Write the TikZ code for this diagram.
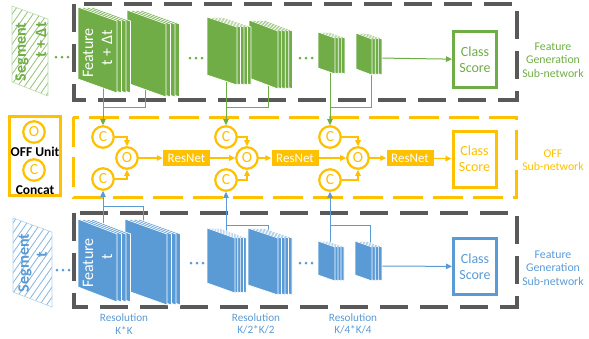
\documentclass[tikz,border=0pt]{standalone}
\usepackage{fontspec}
\setmainfont{Carlito}
\usetikzlibrary{arrows.meta}
\definecolor{cgreen}{HTML}{70AD47}
\definecolor{corange}{HTML}{FFC000}
\definecolor{cblue}{HTML}{5B9BD5}
\definecolor{cgrey}{HTML}{595959}
% #1 x, #2 ytop, #3 w, #4 h, #5 slant, #6 back panels, #7 dx, #8 colour
\newcommand{\fstack}[8]{%
  \foreach \i in {#6,...,0}{%
    \filldraw[fill=#8, draw=white, line width=0.7pt]
      ({#1+\i*#7},#2) -- ++(#3,#5) -- ++(0,#4) -- ++(-#3,-#5) -- cycle;
  }%
}
\begin{document}
\begin{tikzpicture}[x=1pt,y=-1pt,
  greybox/.style={draw=cgrey, line width=3.2pt, dash pattern=on 28pt off 12pt},
  orangebox/.style={draw=corange, line width=3pt, dash pattern=on 30pt off 10pt},
  circ/.style={circle, draw=corange, line width=2.2pt, fill=white, minimum size=21.5pt, inner sep=0pt, text=corange, font=\fontsize{15.5}{15.5}\selectfont},
  resnet/.style={fill=corange, minimum width=47pt, minimum height=16pt, inner sep=0pt, text=white, font=\fontsize{13}{13}\selectfont},
  classbox/.style={draw=#1, line width=3pt, fill=white, minimum width=43pt, minimum height=56pt, text=#1, font=\fontsize{14}{16}\selectfont, align=center, inner sep=0pt},
  gline/.style={draw=cgreen, line width=1pt},
  bline/.style={draw=cblue, line width=1pt},
  garrow/.style={gline, -{Triangle[length=6pt,width=5.5pt]}},
  barrow/.style={bline, -{Triangle[length=6pt,width=5.5pt]}},
  oarrow/.style={draw=corange, line width=1.2pt, -{Triangle[length=6pt,width=5.5pt]}},
  sidelabel/.style={text=#1, align=center, font=\fontsize{11.8}{13.5}\selectfont},
  reslabel/.style={text=cblue, align=center, font=\fontsize{11.2}{12.5}\selectfont},
  feattext/.style={rotate=90, text=white, font=\fontsize{16}{16}\selectfont},
  segtext/.style={rotate=90, text=#1, font=\bfseries\fontsize{16}{16}\selectfont},
  legtext/.style={text=black, font=\bfseries\fontsize{13.5}{13.5}\selectfont}
]
\useasboundingbox (0,0) rectangle (589,338);

% dashed frames
\draw[greybox] (74,4) rectangle (517,100);
\draw[orangebox] (73,117) rectangle (516,197);
\draw[greybox] (74,213) rectangle (517,307);

% legend
\node[draw=corange, line width=3pt, minimum width=51pt, minimum height=79pt, inner sep=0pt] (legend) at (35,156) {};
\node[circ] (lo) at (34,132) {O};
\node[legtext] (lot) at (35,152) {OFF Unit};
\node[circ] (lc) at (34,170) {C};
\node[legtext] (lct) at (35,190) {Concat};

% segments
\begin{scope}
  \clip (12,6) -- (48,19) -- (48,96) -- (12,82) -- cycle;
  \foreach \k in {-90,-83,...,60} \draw[cgreen!75, line width=0.8pt] (\k,110) -- ++(77,-110);
\end{scope}
\draw[cgreen!45, line width=0.6pt] (12,6) -- (48,19) -- (48,96) -- (12,82) -- cycle;
\node[segtext=cgreen] (segT1) at (22,52) {Segment};
\node[segtext=cgreen] (segT2) at (41,40) {t + Δt};

\begin{scope}
  \clip (13,218) -- (52,232) -- (52,307) -- (13,292) -- cycle;
  \foreach \k in {-90,-83,...,60} \draw[cblue!75, line width=0.8pt] (\k,320) -- ++(77,-110);
\end{scope}
\draw[cblue!45, line width=0.6pt] (13,218) -- (52,232) -- (52,307) -- (13,292) -- cycle;
\node[segtext=cblue] (segB1) at (25,263) {Segment};
\node[segtext=cblue] (segB2) at (42,255) {t};

% dots
\foreach \x/\y in {56/57,62/57,68/57,190/58,196/58,202/58,300/58,306/58,312/58}
  \fill[cgreen] (\x,\y) circle (1.5pt);
\foreach \x/\y in {57/270,63/270,69/270,191/263,197/263,203/263,300/263,306/263,312/263}
  \fill[cblue] (\x,\y) circle (1.5pt);

% OFF row nodes
\node[circ] (c1a) at (103,137) {C};
\node[circ] (c1b) at (103,179) {C};
\node[circ] (o1) at (127,158) {O};
\node[circ] (c2a) at (226,137) {C};
\node[circ] (c2b) at (226,180) {C};
\node[circ] (o2) at (247,158) {O};
\node[circ] (c3a) at (330,137) {C};
\node[circ] (c3b) at (330,180) {C};
\node[circ] (o3) at (358,158) {O};
\node[resnet] (r1) at (186.5,158) {ResNet};
\node[resnet] (r2) at (295,158) {ResNet};
\node[resnet] (r3) at (410,158) {ResNet};
\node[classbox=cgreen] (csT) at (475,59.5) {Class\\Score};
\node[classbox=corange] (csO) at (474.5,159) {Class\\Score};
\node[classbox=cblue] (csB) at (475,266.5) {Class\\Score};

% OFF row connectors
\draw[oarrow] (c1a.east) -| (o1.north);
\draw[oarrow] (c1b.east) -| (o1.south);
\draw[oarrow] (c2a.east) -| (o2.north);
\draw[oarrow] (c2b.east) -| (o2.south);
\draw[oarrow] (c3a.east) -| (o3.north);
\draw[oarrow] (c3b.east) -| (o3.south);
\draw[oarrow] (o1) -- (r1);
\draw[oarrow] (r1) -- (o2);
\draw[oarrow] (o2) -- (r2);
\draw[oarrow] (r2) -- (o3);
\draw[oarrow] (o3) -- (r3);
\draw[oarrow] (r3) -- (csO);

% top connectors (green)
\coordinate (tg1) at (103,85);
\coordinate (tg2) at (145,86);
\coordinate (tj1) at (103,107);
\coordinate (tg3) at (226,78);
\coordinate (tg4) at (268,82);
\coordinate (tj2) at (226,107);
\coordinate (tg5) at (330,69);
\coordinate (tg6) at (371,71);
\coordinate (tj3) at (330,107);
\coordinate (tg7) at (378,58);
\draw[gline] (tg2) |- (tj1);
\draw[gline] (tg4) |- (tj2);
\draw[gline] (tg6) |- (tj3);
\draw[garrow] (tg1) -- (c1a);
\draw[garrow] (tg3) -- (c2a);
\draw[garrow] (tg5) -- (c3a);
\draw[garrow] (tg7) -- (csT);

% bottom connectors (blue)
\coordinate (bg1) at (103,232);
\coordinate (bg2) at (143,229);
\coordinate (bj1) at (103,206);
\coordinate (bg3) at (226,238);
\coordinate (bg4) at (268,238);
\coordinate (bj2) at (226,225);
\coordinate (bg5) at (330,248);
\coordinate (bg6) at (370,249);
\coordinate (bj3) at (330,225);
\coordinate (bg7) at (378,266);
\draw[bline] (bg2) |- (bj1);
\draw[bline] (bg4) |- (bj2);
\draw[bline] (bg6) |- (bj3);
\draw[barrow] (bg1) -- (c1b);
\draw[barrow] (bg3) -- (c2b);
\draw[barrow] (bg5) -- (c3b);
\draw[barrow] (bg7) -- (csB);

% feature stacks, top
\fstack{127}{10}{39}{73}{14}{3}{4.5}{cgreen}
\fstack{78}{7}{39}{72}{14}{3}{4.5}{cgreen}
\fstack{249}{20}{29}{58}{11}{4}{3.6}{cgreen}
\fstack{207}{17}{30}{58}{10}{4}{3.5}{cgreen}
\fstack{356}{33}{16}{36}{6}{3}{3.3}{cgreen}
\fstack{318}{32}{17}{36}{6}{3}{3.3}{cgreen}
\node[feattext] (ftT1) at (88,53) {Feature};
\node[feattext] (ftT2) at (107,48) {t + Δt};

% feature stacks, bottom
\fstack{125}{219}{42}{71}{15}{3}{4.5}{cblue}
\fstack{78}{219}{39}{68}{15}{3}{4.5}{cblue}
\fstack{248}{228}{30}{57}{10}{4}{3.5}{cblue}
\fstack{207}{228}{28}{55}{10}{4}{2.8}{cblue}
\fstack{355}{241}{17}{34}{6}{3}{3.3}{cblue}
\fstack{318}{241}{17}{34}{6}{3}{3}{cblue}
\node[feattext] (ftB1) at (88,263) {Feature};
\node[feattext] (ftB2) at (107,257) {t};

% side labels
\node[sidelabel=cgreen] (labT) at (553,60) {Feature\\Generation\\Sub-network};
\node[sidelabel=corange] (labO) at (553,160) {OFF\\Sub-network};
\node[sidelabel=cblue] (labB) at (553,268) {Feature\\Generation\\Sub-network};

% resolution labels
\node[reslabel] (res1) at (124,324) {Resolution\\K*K};
\node[reslabel] (res2) at (256,324) {Resolution\\K/2*K/2};
\node[reslabel] (res3) at (353,324) {Resolution\\K/4*K/4};
\end{tikzpicture}
\end{document}
